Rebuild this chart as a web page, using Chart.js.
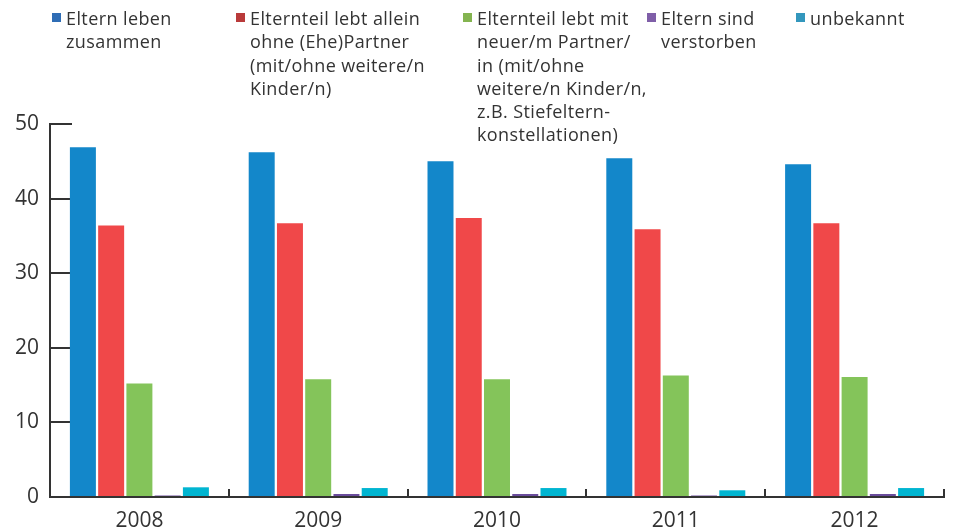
<!DOCTYPE html>
<html><head><meta charset="utf-8">
<script src="https://cdn.jsdelivr.net/npm/chart.js@4/dist/chart.umd.min.js"></script>
<style>
html,body{margin:0;padding:0;background:#fff;}
#wrap{position:relative;width:959px;height:530px;overflow:hidden;}
canvas{position:absolute;left:0;top:0;}
#legend{position:absolute;left:0;top:0;width:959px;height:160px;font-family:"Open Sans",sans-serif;font-size:18px;line-height:23.3px;color:#333;letter-spacing:0.4px;}
.item{position:absolute;top:7px;white-space:nowrap;}
.sw{position:absolute;left:0;top:6px;width:9px;height:9px;}
.tx{position:absolute;left:14px;top:0;}
</style></head>
<body>
<div id="wrap"><canvas id="c" width="959" height="530"></canvas><div id="legend"></div></div>
<script>
// ---- data ----
const categories = ['2008', '2009', '2010', '2011', '2012'];
const seriesNames = [
  ['Eltern leben', 'zusammen'],
  ['Elternteil lebt allein', 'ohne (Ehe)Partner', '(mit/ohne weitere/n', 'Kinder/n)'],
  ['Elternteil lebt mit', 'neuer/m Partner/', 'in (mit/ohne', 'weitere/n Kinder/n,', 'z.B. Stiefeltern-', 'konstellationen)'],
  ['Eltern sind', 'verstorben'],
  ['unbekannt']
];
const elternZusammen    = [46.9, 46.2, 45.0, 45.4, 44.6];
const alleinOhnePartner = [36.4, 36.7, 37.4, 35.9, 36.7];
const neuerPartner      = [15.2, 15.8, 15.8, 16.3, 16.1];
const verstorben        = [0.2, 0.4, 0.4, 0.2, 0.4];
const unbekannt         = [1.3, 1.2, 1.2, 0.9, 1.2];
const yTicks = [0, 10, 20, 30, 40, 50];

// ---- styles ----
const barColors = ['#1387ca', '#f04849', '#84c45a', '#6a4c9c', '#00b5d1'];
const legendColors = ['#2f6db5', '#b93a3a', '#84b450', '#7f5ea8', '#3397bd'];
const legendX = [52, 236, 463, 647, 796];
const ink = '#333333';

const seriesValues = [elternZusammen, alleinOhnePartner, neuerPartner, verstorben, unbekannt];

const chart = new Chart(document.getElementById('c'), {
  type: 'bar',
  data: {
    labels: categories,
    datasets: seriesValues.map((vals, i) => ({
      label: seriesNames[i].join(' '),
      data: vals,
      backgroundColor: barColors[i],
      borderWidth: 0,
      categoryPercentage: 0.79,
      barPercentage: 0.92
    }))
  },
  options: {
    responsive: false,
    animation: false,
    devicePixelRatio: 1,
    layout: { padding: { top: 124, right: 15, bottom: 0, left: 0 } },
    plugins: { legend: { display: false }, tooltip: { enabled: false } },
    scales: {
      x: {
        offset: true,
        grid: { offset: true, drawOnChartArea: false, drawTicks: true, tickLength: -8, color: ink, lineWidth: 2 },
        border: { display: true, color: ink, width: 2 },
        ticks: { color: ink, padding: 19, font: { family: 'Open Sans', size: 21 }, maxRotation: 0 },
        afterFit: s => { s.height = 33; }
      },
      y: {
        min: 0, max: 50,
        afterBuildTicks: s => { s.ticks = yTicks.map(v => ({ value: v })); },
        grid: { drawOnChartArea: false, drawTicks: true, tickLength: -22, color: ink, lineWidth: 2 },
        border: { display: true, color: ink, width: 2 },
        ticks: { color: ink, padding: 33, font: { family: 'Open Sans', size: 21 } },
        afterFit: s => { s.width = 50; s.paddingTop = 0; s.paddingBottom = 0; }
      }
    }
  }
});

// ---- HTML legend built from the chart's datasets ----
const leg = document.getElementById('legend');
chart.data.datasets.forEach((ds, i) => {
  const it = document.createElement('div');
  it.className = 'item';
  it.style.left = legendX[i] + 'px';
  const sw = document.createElement('div');
  sw.className = 'sw';
  sw.style.background = legendColors[i];
  const tx = document.createElement('div');
  tx.className = 'tx';
  seriesNames[i].forEach((line, k) => {
    if (k) tx.appendChild(document.createElement('br'));
    tx.appendChild(document.createTextNode(line));
  });
  it.appendChild(sw);
  it.appendChild(tx);
  leg.appendChild(it);
});
</script>
</body></html>
